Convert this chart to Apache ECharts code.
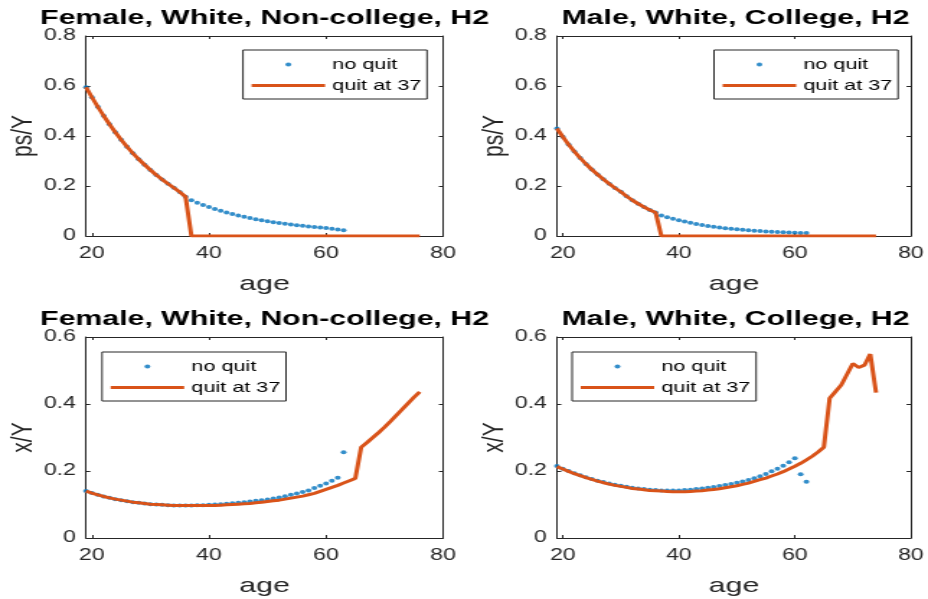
<!DOCTYPE html>
<html>
<head>
<meta charset="utf-8">
<script src="https://cdn.jsdelivr.net/npm/echarts@6/dist/echarts.min.js"></script>
<style>
  html, body { margin: 0; padding: 0; background: #fff; overflow: hidden; }
  /* the original figure is stretched sideways, so draw narrow and stretch */
  #main { width: 644px; height: 599px; transform: scaleX(1.441); transform-origin: 0 0; }
</style>
</head>
<body>
<div id="main"></div>
<script>
// every series starts at age 19, one value per year
var ageStart = 19
var xTicks = [20, 40, 60, 80]

// Female, White, Non-college: ps/Y
var fwPsNoQuit = [0.595, 0.555, 0.517, 0.481, 0.447, 0.415, 0.385, 0.357, 0.331, 0.307, 0.285, 0.264, 0.244, 0.226, 0.209, 0.193, 0.176, 0.157,
  0.143, 0.133, 0.124, 0.116, 0.108, 0.101, 0.094, 0.088, 0.082, 0.077, 0.072, 0.067, 0.063, 0.059, 0.055, 0.052, 0.049, 0.046, 0.043, 0.041, 0.038, 0.036, 0.034, 0.032, 0.029, 0.026, 0.023]
var fwPsQuit = [0.595, 0.555, 0.517, 0.481, 0.447, 0.415, 0.385, 0.357, 0.331, 0.307, 0.285, 0.264, 0.244, 0.226, 0.209, 0.193, 0.176, 0.157,
  0, 0, 0, 0, 0, 0, 0, 0, 0, 0,
  0, 0, 0, 0, 0, 0, 0, 0, 0, 0,
  0, 0, 0, 0, 0, 0, 0, 0, 0, 0,
  0, 0, 0, 0, 0, 0, 0, 0, 0, 0]

// Male, White, College: ps/Y
var mcPsNoQuit = [0.430, 0.397, 0.366, 0.338, 0.312, 0.288, 0.266, 0.246, 0.227, 0.209, 0.192, 0.177, 0.159, 0.143, 0.129, 0.116, 0.104, 0.094,
  0.082, 0.075, 0.069, 0.063, 0.058, 0.053, 0.048, 0.044, 0.040, 0.037, 0.034, 0.031, 0.029, 0.027, 0.025, 0.023, 0.021, 0.020, 0.018, 0.017, 0.016, 0.015, 0.014, 0.013, 0.012, 0.012]
var mcPsQuit = [0.430, 0.397, 0.366, 0.338, 0.312, 0.288, 0.266, 0.246, 0.227, 0.209, 0.192, 0.177, 0.159, 0.143, 0.129, 0.116, 0.104, 0.094,
  0, 0, 0, 0, 0, 0, 0, 0, 0, 0,
  0, 0, 0, 0, 0, 0, 0, 0, 0, 0,
  0, 0, 0, 0, 0, 0, 0, 0, 0, 0,
  0, 0, 0, 0, 0, 0, 0, 0]

// Female, White, Non-college: x/Y
var fwXNoQuit = [0.140, 0.134, 0.129, 0.124, 0.120, 0.116, 0.113, 0.110, 0.107, 0.105, 0.103, 0.101, 0.100, 0.099, 0.098, 0.097, 0.097, 0.097,
  0.097, 0.098, 0.098, 0.099, 0.100, 0.101, 0.102, 0.104, 0.105, 0.107, 0.109, 0.111, 0.113, 0.115, 0.118, 0.121, 0.125, 0.129, 0.133, 0.137, 0.142, 0.149, 0.156, 0.163, 0.171, 0.180, 0.256]
var fwXQuit = [0.140, 0.134, 0.129, 0.124, 0.120, 0.116, 0.113, 0.110, 0.107, 0.105, 0.103, 0.101, 0.100, 0.099, 0.098, 0.097, 0.097, 0.097,
  0.097, 0.097, 0.097, 0.097, 0.097, 0.098, 0.099, 0.100, 0.101, 0.102, 0.103, 0.105, 0.107, 0.109, 0.111, 0.113, 0.116, 0.119, 0.122, 0.125,
  0.129, 0.133, 0.139, 0.145, 0.151, 0.157, 0.164, 0.171, 0.178, 0.271, 0.285, 0.300, 0.315, 0.331, 0.348, 0.366, 0.384, 0.402, 0.420, 0.436]

// Male, White, College: x/Y
var mcXNoQuit = [0.215, 0.207, 0.200, 0.193, 0.187, 0.181, 0.176, 0.171, 0.167, 0.163, 0.159, 0.156, 0.153, 0.150, 0.148, 0.146, 0.144, 0.143,
  0.142, 0.142, 0.142, 0.142, 0.143, 0.144, 0.146, 0.148, 0.150, 0.152, 0.155, 0.158, 0.161, 0.165, 0.169, 0.173, 0.178, 0.184, 0.191, 0.199, 0.207, 0.216, 0.226, 0.238, 0.190, 0.168]
var mcXQuit = [0.213, 0.206, 0.199, 0.192, 0.186, 0.180, 0.175, 0.170, 0.165, 0.161, 0.157, 0.154, 0.151, 0.148, 0.146, 0.144, 0.142, 0.141,
  0.140, 0.139, 0.138, 0.138, 0.138, 0.139, 0.140, 0.141, 0.143, 0.145, 0.147, 0.150, 0.153, 0.156, 0.160, 0.164, 0.169, 0.174, 0.179, 0.185,
  0.191, 0.198, 0.206, 0.214, 0.223, 0.233, 0.244, 0.257, 0.271, 0.417, 0.437, 0.457, 0.489, 0.521, 0.509, 0.516, 0.549, 0.434]

var axisColor = '#262626'
var blue = '#0072BD'
var orange = '#D95319'

function toPairs(vals) {
  return vals.map(function(v, k) { return [ageStart + k, v] })
}

var panels = [
  { title: 'Female, White, Non-college, H2', yName: 'ps/Y', yMax: 0.8, left: 59.7, top: 36, height: 200, legLeft: 168.6, legTop: 50, titleTop: 8, noQuit: fwPsNoQuit, quit: fwPsQuit },
  { title: 'Male, White, College, H2', yName: 'ps/Y', yMax: 0.8, left: 386.5, top: 36, height: 200, legLeft: 495.5, legTop: 50, titleTop: 8, noQuit: mcPsNoQuit, quit: mcPsQuit },
  { title: 'Female, White, Non-college, H2', yName: 'x/Y', yMax: 0.6, left: 59.7, top: 337, height: 201, legLeft: 70.8, legTop: 352, titleTop: 309, noQuit: fwXNoQuit, quit: fwXQuit },
  { title: 'Male, White, College, H2', yName: 'x/Y', yMax: 0.6, left: 386.5, top: 337, height: 201, legLeft: 397, legTop: 352, titleTop: 309, noQuit: mcXNoQuit, quit: mcXQuit }
]
var plotWidth = 247.8

var grids = [], xAxes = [], yAxes = [], titles = [], legends = [], series = []

panels.forEach(function(p, i) {
  grids.push({ left: p.left, top: p.top, width: plotWidth, height: p.height })
  titles.push({
    text: p.title, left: p.left + plotWidth / 2, top: p.titleTop, textAlign: 'center', padding: 0,
    textStyle: { fontSize: 21, fontWeight: 'bold', color: '#000', fontFamily: 'Liberation Sans' }
  })
  // bottom and top x axes (top one only mirrors the ticks)
  xAxes.push({
    type: 'value', gridIndex: i, min: 19, max: 80,
    name: 'age', nameLocation: 'middle', nameGap: 38,
    nameTextStyle: { fontSize: 21, color: axisColor },
    axisLine: { show: true, onZero: false, lineStyle: { color: axisColor } },
    axisTick: { show: true, inside: true, length: 3, customValues: xTicks, lineStyle: { color: axisColor } },
    axisLabel: { customValues: xTicks, fontSize: 16, color: axisColor, margin: 10 },
    splitLine: { show: false }
  })
  xAxes.push({
    type: 'value', gridIndex: i, position: 'top', min: 19, max: 80,
    axisLine: { show: true, onZero: false, lineStyle: { color: axisColor } },
    axisTick: { show: true, inside: true, length: 3, customValues: xTicks, lineStyle: { color: axisColor } },
    axisLabel: { show: false },
    splitLine: { show: false }
  })
  yAxes.push({
    type: 'value', gridIndex: i, min: 0, max: p.yMax, interval: 0.2,
    name: p.yName, nameLocation: 'middle', nameGap: 30,
    nameTextStyle: { fontSize: 21, color: axisColor },
    axisLine: { show: true, onZero: false, lineStyle: { color: axisColor } },
    axisTick: { show: true, inside: true, length: 3, lineStyle: { color: axisColor } },
    axisLabel: { fontSize: 16, color: axisColor, margin: 7 },
    splitLine: { show: false }
  })
  yAxes.push({
    type: 'value', gridIndex: i, position: 'right', min: 0, max: p.yMax, interval: 0.2,
    axisLine: { show: true, onZero: false, lineStyle: { color: axisColor } },
    axisTick: { show: true, inside: true, length: 3, lineStyle: { color: axisColor } },
    axisLabel: { show: false },
    splitLine: { show: false }
  })
  legends.push({
    orient: 'vertical', left: p.legLeft, top: p.legTop,
    data: [
      { name: 'no quit', icon: 'circle' },
      // plain bar so the line sample has no marker on it
      { name: 'quit at 37', icon: 'path://M0,0L51,0L51,3L0,3Z' }
    ],
    selectedMode: false,
    itemWidth: 51, itemHeight: 4, itemGap: 4,
    padding: [6, 4, 5, 6],
    borderColor: axisColor, borderWidth: 1, backgroundColor: '#fff',
    textStyle: { fontSize: 15, color: '#000', lineHeight: 17 }
  })
  series.push({
    name: 'no quit', type: 'scatter', xAxisIndex: 2 * i, yAxisIndex: 2 * i,
    symbolSize: 4, itemStyle: { color: blue },
    data: toPairs(p.noQuit)
  })
  series.push({
    name: 'quit at 37', type: 'line', xAxisIndex: 2 * i, yAxisIndex: 2 * i,
    symbol: 'none', showSymbol: false, itemStyle: { color: orange },
    lineStyle: { width: 3, color: orange },
    data: toPairs(p.quit)
  })
})

var myChart = echarts.init(document.getElementById('main'))
var option = {
  animation: false,
  backgroundColor: '#fff',
  textStyle: { fontFamily: 'Liberation Sans, Arial, sans-serif' },
  title: titles,
  grid: grids,
  xAxis: xAxes,
  yAxis: yAxes,
  legend: legends,
  series: series
}
myChart.setOption(option)
</script>
</body>
</html>
